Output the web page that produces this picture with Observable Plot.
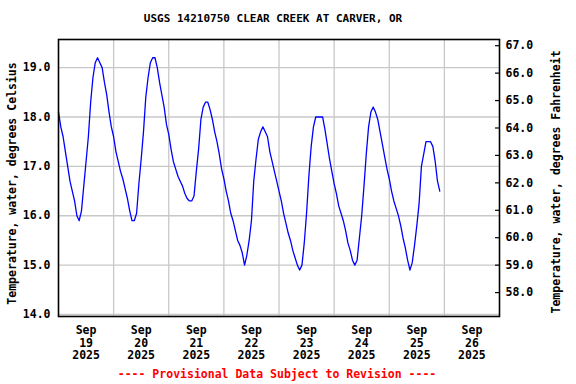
<!DOCTYPE html>
<html>
<head>
<meta charset="utf-8">
<script src="https://cdn.jsdelivr.net/npm/d3@7"></script>
<script src="https://cdn.jsdelivr.net/npm/@observablehq/plot@0.6"></script>
<style>
  html, body { margin: 0; padding: 0; background: #fff; }
  body { width: 576px; height: 384px; position: relative; overflow: hidden;
         font-family: "DejaVu Sans Mono", monospace; font-weight: bold; }
  #chart { position: absolute; left: 0; top: 0; }
  #title { position: absolute; top: 12px; left: 0; width: 546px; text-align: center;
           font-size: 11px; color: #000; white-space: pre; }
  #footer { position: absolute; top: 367px; left: 0; width: 554px; text-align: center;
            font-size: 11.5px; color: #ff0000; white-space: pre; }
</style>
</head>
<body>
<div id="chart"></div>
<div id="title">USGS 14210750 CLEAR CREEK AT CARVER, OR</div>
<div id="footer">---- Provisional Data Subject to Revision ----</div>
<script>
// Hourly water temperature readings (deg C), starting at 00:00 of each day
const dayDates = ["2025-09-19", "2025-09-20", "2025-09-21", "2025-09-22", "2025-09-23", "2025-09-24", "2025-09-25"];
const sep19 = [18.1, 17.8, 17.6, 17.3, 17.0, 16.7, 16.5, 16.3, 16.0, 15.9, 16.1, 16.6, 17.1, 17.6, 18.3, 18.8, 19.1, 19.2, 19.1, 19.0, 18.7, 18.45, 18.1, 17.8];
const sep20 = [17.6, 17.3, 17.1, 16.9, 16.75, 16.55, 16.35, 16.1, 15.9, 15.9, 16.05, 16.65, 17.15, 17.7, 18.4, 18.8, 19.1, 19.2, 19.2, 19.0, 18.7, 18.45, 18.2, 17.85];
const sep21 = [17.65, 17.35, 17.1, 16.95, 16.8, 16.7, 16.6, 16.45, 16.35, 16.3, 16.3, 16.4, 16.9, 17.35, 17.95, 18.2, 18.3, 18.3, 18.15, 17.95, 17.7, 17.5, 17.25, 16.95];
const sep22 = [16.75, 16.5, 16.3, 16.05, 15.9, 15.7, 15.5, 15.4, 15.25, 15.0, 15.2, 15.5, 15.9, 16.7, 17.15, 17.55, 17.7, 17.8, 17.7, 17.6, 17.3, 17.1, 16.9, 16.7];
const sep23 = [16.5, 16.3, 16.05, 15.85, 15.65, 15.5, 15.3, 15.15, 15.0, 14.9, 15.0, 15.45, 16.05, 16.8, 17.4, 17.8, 18.0, 18.0, 18.0, 18.0, 17.75, 17.45, 17.15, 16.9];
const sep24 = [16.65, 16.45, 16.2, 16.05, 15.9, 15.7, 15.45, 15.3, 15.1, 15.0, 15.1, 15.55, 16.0, 16.6, 17.25, 17.8, 18.1, 18.2, 18.1, 17.95, 17.7, 17.45, 17.2, 16.95];
const sep25 = [16.75, 16.5, 16.3, 16.15, 16.0, 15.8, 15.55, 15.35, 15.1, 14.9, 15.05, 15.4, 15.8, 16.25, 17.0, 17.25, 17.5, 17.5, 17.5, 17.4, 17.1, 16.7, 16.5];
const dayValues = [sep19, sep20, sep21, sep22, sep23, sep24, sep25];

// Axis ticks
const celsiusTicks = [14, 15, 16, 17, 18, 19];
const fahrenheitTicks = [58, 59, 60, 61, 62, 63, 64, 65, 66, 67];
const xTickDays = ["2025-09-19", "2025-09-20", "2025-09-21", "2025-09-22", "2025-09-23", "2025-09-24", "2025-09-25", "2025-09-26"];
const gridDays = ["2025-09-20", "2025-09-21", "2025-09-22", "2025-09-23", "2025-09-24", "2025-09-25", "2025-09-26"];
const xDomain = ["2025-09-19", "2025-09-27"];
const yDomain = [13.96, 19.57];
const leftLabel = "Temperature, water, degrees Celsius";
const rightLabel = "Temperature, water, degrees Fahrenheit";

const monthNames = ["Jan","Feb","Mar","Apr","May","Jun","Jul","Aug","Sep","Oct","Nov","Dec"];
const dayStart = s => new Date(s + "T00:00:00Z");
const data = [];
dayDates.forEach((d, i) => {
  const t0 = dayStart(d).getTime();
  dayValues[i].forEach((v, h) => data.push({time: new Date(t0 + h * 3600e3), temp: v}));
});
const toC = f => (f - 32) * 5 / 9;
const noonTicks = xTickDays.map(d => new Date(dayStart(d).getTime() + 12 * 3600e3));

const plot = Plot.plot({
  width: 576,
  height: 384,
  marginTop: 39,
  marginBottom: 68,
  marginLeft: 58,
  marginRight: 77,
  style: {fontFamily: "DejaVu Sans Mono, monospace", fontWeight: "bold", fontSize: "11.5px", color: "#000", background: "#fff", overflow: "visible"},
  x: {type: "utc", domain: xDomain.map(dayStart)},
  y: {domain: yDomain},
  marks: [
    Plot.gridX(gridDays.map(dayStart), {stroke: "#c8c8c8", strokeOpacity: 1, strokeWidth: 1.3}),
    Plot.gridY(celsiusTicks, {stroke: "#c8c8c8", strokeOpacity: 1, strokeWidth: 1.3}),
    Plot.axisY(celsiusTicks, {anchor: "left", tickSize: 0, tickPadding: 8, tickFormat: d => d.toFixed(1), label: null}),
    Plot.axisY(fahrenheitTicks.map(toC), {anchor: "right", tickSize: 0, tickPadding: 6, tickFormat: d => (d * 9 / 5 + 32).toFixed(1), label: null}),
    Plot.tickY(fahrenheitTicks.map(toC), {y: d => d, stroke: "#000", strokeWidth: 1.2, insetLeft: 437}),
    Plot.axisX(noonTicks, {anchor: "bottom", tickSize: 0, tickPadding: 9, lineHeight: 1.09,
      tickFormat: d => `${monthNames[d.getUTCMonth()]}\n${d.getUTCDate()}\n${d.getUTCFullYear()}`, label: null}),
    Plot.line(data, {x: "time", y: "temp", stroke: "#0000ff", strokeWidth: 1.3}),
    Plot.frame({stroke: "#000", strokeWidth: 1.6}),
    Plot.text([leftLabel], {frameAnchor: "left", textAnchor: "middle", text: d => d, rotate: -90, dx: -46, dy: 5.5}),
    Plot.text([rightLabel], {frameAnchor: "right", textAnchor: "middle", text: d => d, rotate: -90, dx: 57, dy: 4})
  ]
});
document.getElementById("chart").appendChild(plot);
</script>
</body>
</html>
